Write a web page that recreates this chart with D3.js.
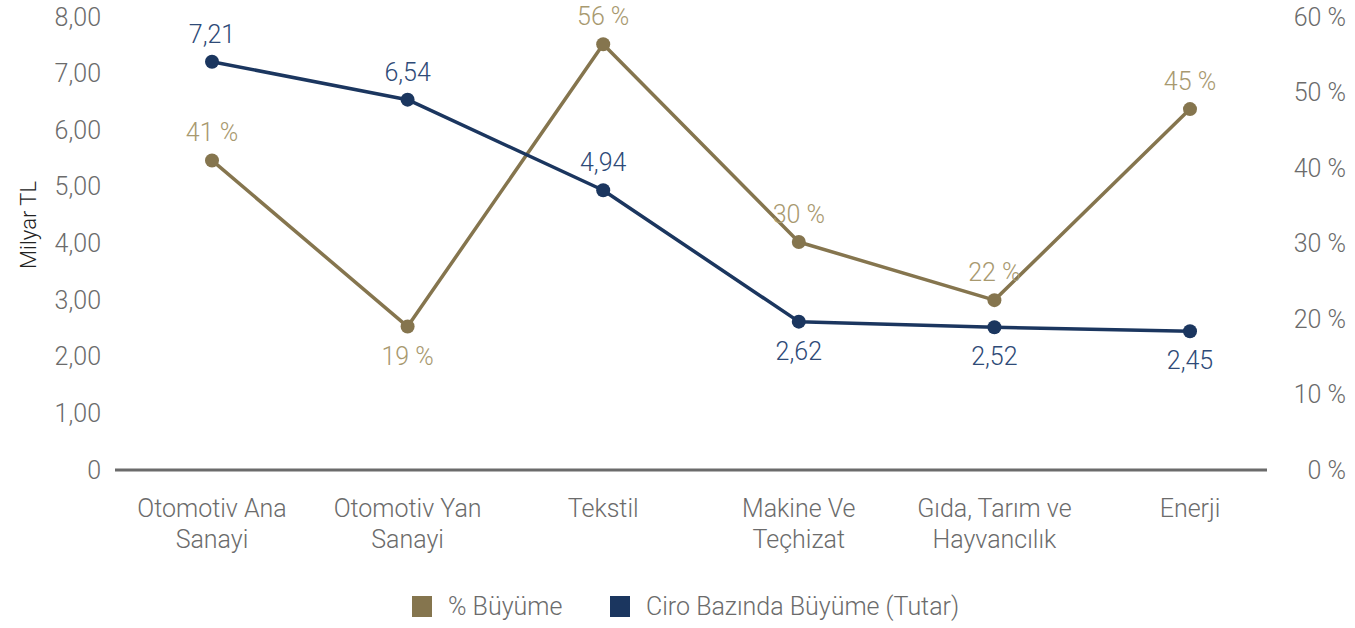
<!DOCTYPE html>
<html>
<head>
<meta charset="utf-8">
<script src="https://cdn.jsdelivr.net/npm/d3@7"></script>
<style>
    body { margin: 0; background: #fff; }
    text { font-family: Roboto, "Open Sans", sans-serif; font-weight: 300; }
</style>
</head>
<body>
<div id="chart"></div>
<script>
// categories (line breaks as in the reference)
const categories = [
    ["Otomotiv Ana", "Sanayi"],
    ["Otomotiv Yan", "Sanayi"],
    ["Tekstil"],
    ["Makine Ve", "Teçhizat"],
    ["Gıda, Tarım ve", "Hayvancılık"],
    ["Enerji"]
];

// Ciro Bazında Büyüme (Tutar), milyar TL
const ciroValues = [7.21, 6.54, 4.94, 2.62, 2.52, 2.45];

// % Büyüme, as plotted, and as labelled
const buyumeValues = [41, 19, 56.4, 30.2, 22.5, 47.8];
const buyumeLabels = ["41 %", "19 %", "56 %", "30 %", "22 %", "45 %"];

// where the value labels sit relative to the point
const ciroLabelSide = ["top", "top", "top", "bottom", "bottom", "bottom"];
const buyumeLabelSide = ["top", "bottom", "top", "top", "top", "top"];

const leftTicks = [0, 1, 2, 3, 4, 5, 6, 7, 8];
const rightTicks = [0, 10, 20, 30, 40, 50, 60];

const legendItems = ["% Büyüme", "Ciro Bazında Büyüme (Tutar)"];

const gold = "#85754e", goldText = "#a8996f";
const navy = "#1b365f", navyText = "#2e4a77";
const grey = "#6b6b6b";

const W = 1355, H = 628;
const plot = { left: 115, right: 1267, top: 17, bottom: 470 };
const fontSize = "25px";

const svg = d3.select("#chart").append("svg")
    .attr("width", W)
    .attr("height", H);

const keys = categories.map(c => c.join(" "));

const x = d3.scalePoint()
    .domain(keys)
    .range([212, 1190]);

const yLeft = d3.scaleLinear()
    .domain([0, 8])
    .range([plot.bottom, plot.top]);

const yRight = d3.scaleLinear()
    .domain([0, 60])
    .range([plot.bottom, plot.top]);

const fmt = v => v === 0 ? "0" : d3.format(".2f")(v).replace(".", ",");

// left axis
const leftAxis = d3.axisLeft(yLeft)
    .tickValues(leftTicks)
    .tickFormat(fmt)
    .tickSize(0)
    .tickPadding(0);

svg.append("g")
    .attr("class", "y-axis axis")
    .attr("transform", "translate(101,0)")
    .call(leftAxis)
    .call(g => g.select(".domain").remove())
    .selectAll("text")
    .attr("fill", grey)
    .style("font-size", fontSize);

// right axis
const rightAxis = d3.axisRight(yRight)
    .tickValues(rightTicks)
    .tickFormat(d => d + " %")
    .tickSize(0)
    .tickPadding(0);

svg.append("g")
    .attr("class", "y2-axis axis")
    .attr("transform", "translate(1346,0)")
    .call(rightAxis)
    .call(g => g.select(".domain").remove())
    .selectAll("text")
    .attr("text-anchor", "end")
    .attr("fill", grey)
    .style("font-size", fontSize);

// axis title
svg.append("text")
    .attr("transform", "translate(36,225) rotate(-90)")
    .attr("text-anchor", "middle")
    .attr("fill", "#222")
    .style("font-size", "22px")
    .text("Milyar TL");

// baseline
svg.append("line")
    .attr("x1", plot.left)
    .attr("x2", plot.right)
    .attr("y1", yLeft(0))
    .attr("y2", yLeft(0))
    .attr("stroke", grey)
    .attr("stroke-width", 3);

// category labels
const catLabels = svg.append("g").attr("class", "x-axis axis")
    .selectAll("text")
    .data(categories)
    .enter().append("text")
    .attr("x", (d, i) => x(keys[i]))
    .attr("y", 517)
    .attr("text-anchor", "middle")
    .attr("fill", grey)
    .style("font-size", fontSize);

catLabels.selectAll("tspan")
    .data(d => d)
    .enter().append("tspan")
    .attr("x", function() { return d3.select(this.parentNode).attr("x"); })
    .attr("dy", (d, i) => i === 0 ? 0 : 31)
    .text(d => d);

// series
function drawSeries(values, scale, color, textColor, labels, sides) {
    const pts = values.map((v, i) => ({ x: x(keys[i]), y: scale(v), label: labels[i], side: sides[i] }));

    svg.append("path")
        .datum(pts)
        .attr("fill", "none")
        .attr("stroke", color)
        .attr("stroke-width", 3.5)
        .attr("stroke-linejoin", "round")
        .attr("d", d3.line().x(d => d.x).y(d => d.y));

    svg.append("g").selectAll("circle")
        .data(pts)
        .enter().append("circle")
        .attr("cx", d => d.x)
        .attr("cy", d => d.y)
        .attr("r", 7)
        .attr("fill", color);

    svg.append("g").selectAll("text")
        .data(pts)
        .enter().append("text")
        .attr("x", d => d.x)
        .attr("y", d => d.side === "top" ? d.y - 19 : d.y + 38)
        .attr("text-anchor", "middle")
        .attr("fill", textColor)
        .style("font-size", fontSize)
        .text(d => d.label);
}

drawSeries(buyumeValues, yRight, gold, goldText, buyumeLabels, buyumeLabelSide);
drawSeries(ciroValues, yLeft, navy, navyText, ciroValues.map(fmt), ciroLabelSide);

// legend
const legend = svg.append("g").attr("class", "legend");
const legendX = [412, 610];
const legendColors = [gold, navy];

legendItems.forEach((name, i) => {
    legend.append("rect")
        .attr("x", legendX[i])
        .attr("y", 596)
        .attr("width", 20)
        .attr("height", 21)
        .attr("fill", legendColors[i]);
    legend.append("text")
        .attr("x", legendX[i] + 36)
        .attr("y", 615)
        .attr("fill", grey)
        .style("font-size", fontSize)
        .text(name);
});
</script>
</body>
</html>
